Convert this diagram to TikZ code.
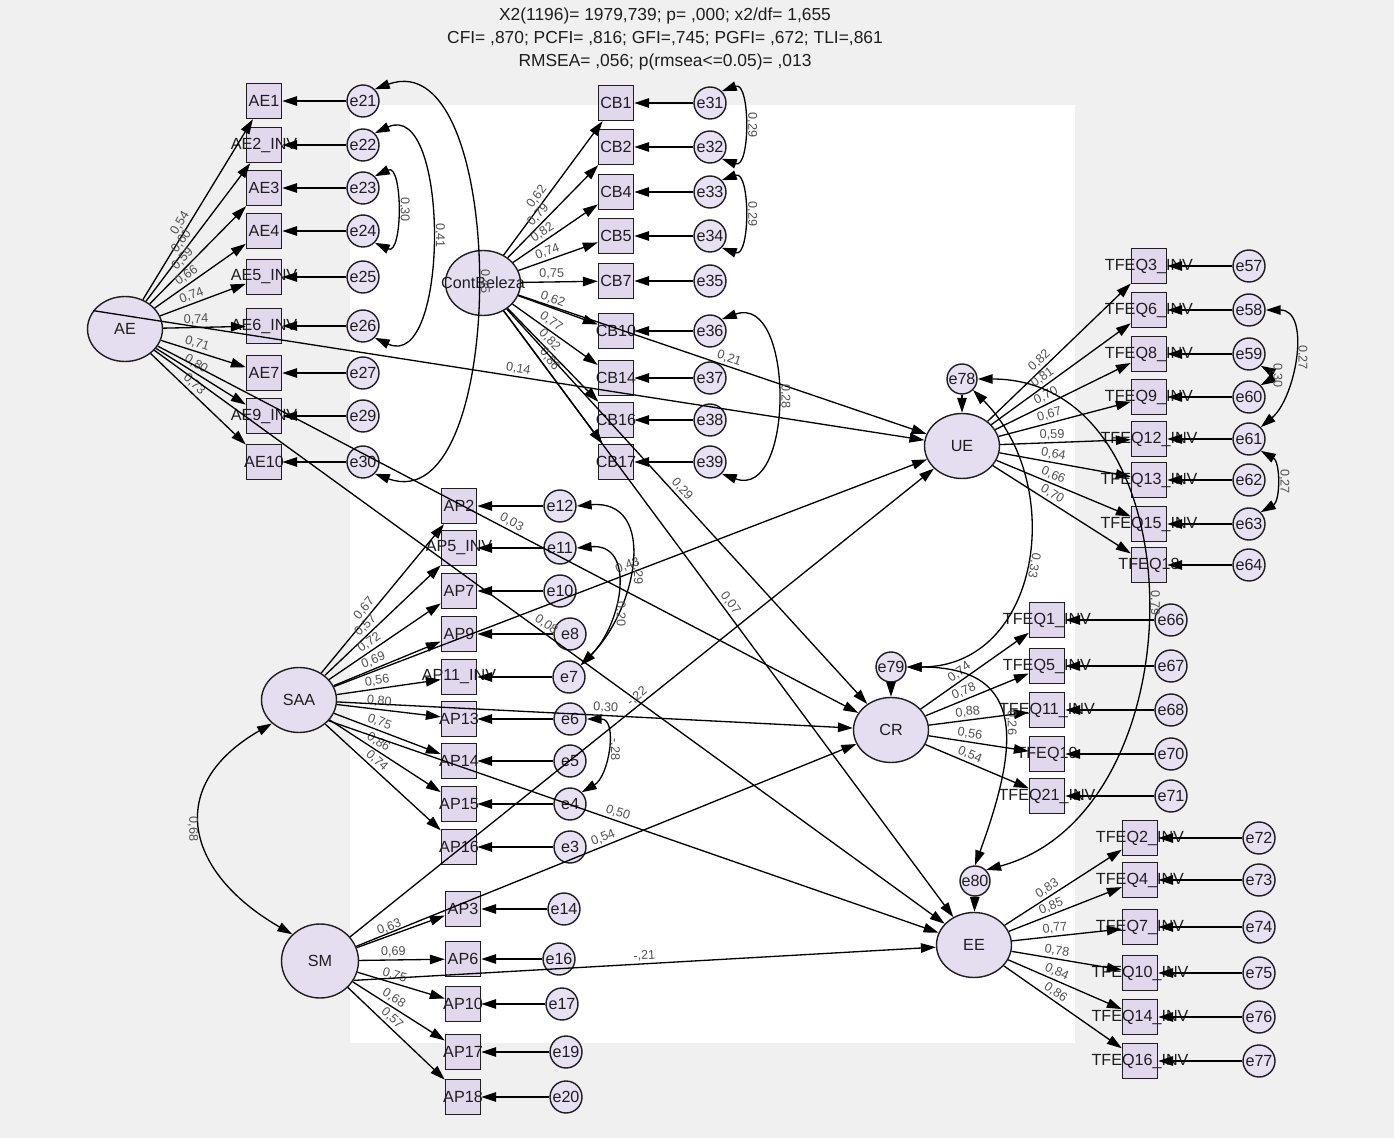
\documentclass[tikz,border=0pt]{standalone}
\usepackage{fontspec}
\setmainfont{Liberation Sans}
\setsansfont{Liberation Sans}
\usetikzlibrary{arrows.meta,shapes.geometric}

\begin{document}
\begin{tikzpicture}[x=0.02cm, y=-0.02cm, font=\sffamily]
% Colors
\definecolor{bggray}{RGB}{240,240,240}
\definecolor{boxfill}{RGB}{226,216,238}
\definecolor{errfill}{RGB}{232,224,243}
\definecolor{latfill}{RGB}{228,222,240}
\definecolor{ink}{RGB}{30,30,30}
\definecolor{wtgray}{RGB}{80,80,80}

\tikzset{
  obs/.style={draw=ink, fill=boxfill, line width=0.8pt, minimum width=0.7cm, minimum height=0.7cm, inner sep=0pt},
  err/.style={circle, draw=ink, fill=errfill, line width=0.8pt, minimum size=0.64cm, inner sep=0pt, text=ink, font=\fontsize{9.2}{11}\selectfont},
  lat/.style={ellipse, draw=ink, fill=latfill, line width=0.8pt, minimum width=1.5cm, minimum height=1.3cm, inner sep=0pt},
  lbl/.style={inner sep=0pt, text=ink, font=\fontsize{9.2}{11}\selectfont},
  reg/.style={-{Triangle[length=8.5pt,width=5.4pt]}, line width=0.75pt},
  cov/.style={{Triangle[length=8.5pt,width=5.4pt]}-{Triangle[length=8.5pt,width=5.4pt]}, line width=0.75pt},
  wt/.style={sloped, above, inner sep=1.2pt, text=wtgray, font=\fontsize{7.2}{8}\selectfont},
  arcwt/.style={rotate=-90, above, inner sep=1.5pt, text=wtgray, font=\fontsize{7.2}{8}\selectfont}
}

\useasboundingbox (0,0) rectangle (1394,1138);
% Background panels
\path[fill=bggray] (0,0) rectangle (1394,1138);
\path[fill=white] (350,105) rectangle (1075,1043);

% Fit indices
\node[align=center, text=ink, font=\fontsize{9.9}{13}\selectfont] (fit) at (665,39)
  {X2(1196)= 1979,739; p= ,000; x2/df= 1,655\\CFI= ,870; PCFI= ,816; GFI=,745; PGFI= ,672; TLI=,861\\RMSEA= ,056; p(rmsea<=0.05)= ,013};

% Latent variables
\node[lat, label={[lbl]center:AE}] (ae) at (125,329) {};
\node[lat, label={[lbl]center:ContBeleza}] (cb) at (483,283) {};
\node[lat, label={[lbl]center:SAA}] (saa) at (299,700) {};
\node[lat, minimum width=1.54cm, minimum height=1.48cm, label={[lbl]center:SM}] (sm) at (320,961) {};
\node[lat, label={[lbl]center:UE}] (ue) at (962,446) {};
\node[lat, label={[lbl]center:CR}] (cr) at (891,730) {};
\node[lat, label={[lbl]center:EE}] (ee) at (974,945) {};

% Structural residuals
\node[err, minimum size=0.6cm] (e78) at (962,379) {e78};
\node[err, minimum size=0.6cm] (e79) at (891,667) {e79};
\node[err, minimum size=0.6cm] (e80) at (975,881) {e80};

% Indicator lists: name/text/y/error/loading
\def\aeitems{1/AE1/101/21/{0,54}, 2/AE2\_INV/145/22/{0,60}, 3/AE3/188/23/{0,59}, 4/AE4/231/24/{0,66}, 5/AE5\_INV/277/25/{0,74}, 6/AE6\_INV/326/26/{0,74}, 7/AE7/373/27/{0,71}, 9/AE9\_INV/416/29/{0,80}, 10/AE10/462/30/{0,73}}
\def\cbitems{1/CB1/103/31/{0,62}, 2/CB2/147/32/{0,79}, 4/CB4/192/33/{0,82}, 5/CB5/236/34/{0,74}, 7/CB7/281/35/{0,75}, 10/CB10/331/36/{0,62}, 14/CB14/378/37/{0,77}, 16/CB16/420/38/{0,82}, 17/CB17/462/39/{0,86}}
\def\ueitems{3/TFEQ3\_INV/266/57/{0,82}, 6/TFEQ6\_INV/310/58/{0,81}, 8/TFEQ8\_INV/354/59/{0,70}, 9/TFEQ9\_INV/397/60/{0,67}, 12/TFEQ12\_INV/439/61/{0,59}, 13/TFEQ13\_INV/480/62/{0,64}, 15/TFEQ15\_INV/524/63/{0,66}, 18/TFEQ18/565/64/{0,70}}
\def\critems{1/TFEQ1\_INV/620/66/{0,74}, 5/TFEQ5\_INV/666/67/{0,78}, 11/TFEQ11\_INV/710/68/{0,88}, 19/TFEQ19/754/70/{0,56}, 21/TFEQ21\_INV/796/71/{0,54}}
\def\eeitems{2/TFEQ2\_INV/838/72/{0,83}, 4/TFEQ4\_INV/880/73/{0,85}, 7/TFEQ7\_INV/927/74/{0,77}, 10/TFEQ10\_INV/973/75/{0,78}, 14/TFEQ14\_INV/1017/76/{0,84}, 16/TFEQ16\_INV/1061/77/{0,86}}
\def\saaitems{2/AP2/506/12/560/{0,67}, 5/AP5\_INV/548/11/560/{0,57}, 7/AP7/591/10/560/{0,72}, 9/AP9/634/8/570/{0,69}, 11/AP11\_INV/677/7/569/{0,56}, 13/AP13/719/6/570/{0,80}, 14/AP14/761/5/570/{0,75}, 15/AP15/804/4/570/{0,86}, 16/AP16/847/3/570/{0,74}}
\def\smitems{3/AP3/909/14/564/{0,63}, 6/AP6/959/16/559/{0,69}, 10/AP10/1004/17/562/{0,75}, 17/AP17/1052/19/566/{0,68}, 18/AP18/1097/20/566/{0,57}}

% Observed variables and their errors
\foreach \i/\txt/\y/\k/\w in \aeitems{
  \node[obs, label={[lbl]center:\txt}] (ae\i) at (264,\y) {};
  \node[err] (e\k) at (363,\y) {e\k};
}
\foreach \i/\txt/\y/\k/\w in \cbitems{
  \node[obs, label={[lbl]center:\txt}] (cb\i) at (616,\y) {};
  \node[err] (e\k) at (710,\y) {e\k};
}
\foreach \i/\txt/\y/\k/\w in \ueitems{
  \node[obs, label={[lbl]center:\txt}] (tfeq\i) at (1149,\y) {};
  \node[err] (e\k) at (1249,\y) {e\k};
}
\foreach \i/\txt/\y/\k/\w in \critems{
  \node[obs, label={[lbl]center:\txt}] (tfeq\i) at (1047,\y) {};
  \node[err] (e\k) at (1171,\y) {e\k};
}
\foreach \i/\txt/\y/\k/\w in \eeitems{
  \node[obs, label={[lbl]center:\txt}] (tfeq\i) at (1140,\y) {};
  \node[err] (e\k) at (1259,\y) {e\k};
}
\foreach \i/\txt/\y/\k/\ex/\w in \saaitems{
  \node[obs, label={[lbl]center:\txt}] (ap\i) at (459,\y) {};
  \node[err] (e\k) at (\ex,\y) {e\k};
}
\foreach \i/\txt/\y/\k/\ex/\w in \smitems{
  \node[obs, label={[lbl]center:\txt}] (ap\i) at (463,\y) {};
  \node[err] (e\k) at (\ex,\y) {e\k};
}

% Loadings and error arrows
\foreach \i/\txt/\y/\k/\w in \aeitems{
  \draw[reg] (ae) -- node[wt, pos=0.4] {\w} (ae\i);
  \draw[reg] (e\k) -- (ae\i);
}
\foreach \i/\txt/\y/\k/\w in \cbitems{
  \draw[reg] (cb) -- node[wt, pos=0.4] {\w} (cb\i);
  \draw[reg] (e\k) -- (cb\i);
}
\foreach \i/\txt/\y/\k/\w in \ueitems{
  \draw[reg] (ue) -- node[wt, pos=0.4] {\w} (tfeq\i);
  \draw[reg] (e\k) -- (tfeq\i);
}
\foreach \i/\txt/\y/\k/\w in \critems{
  \draw[reg] (cr) -- node[wt, pos=0.4] {\w} (tfeq\i);
  \draw[reg] (e\k) -- (tfeq\i);
}
\foreach \i/\txt/\y/\k/\w in \eeitems{
  \draw[reg] (ee) -- node[wt, pos=0.4] {\w} (tfeq\i);
  \draw[reg] (e\k) -- (tfeq\i);
}
\foreach \i/\txt/\y/\k/\ex/\w in \saaitems{
  \draw[reg] (saa) -- node[wt, pos=0.4] {\w} (ap\i);
  \draw[reg] (e\k) -- (ap\i);
}
\foreach \i/\txt/\y/\k/\ex/\w in \smitems{
  \draw[reg] (sm) -- node[wt, pos=0.4] {\w} (ap\i);
  \draw[reg] (e\k) -- (ap\i);
}

% Structural paths
\draw[reg] (ae.150) -- node[wt, pos=0.51] {0,14} (ue);
\draw[reg] (ae) -- node[wt, pos=0.5] {0,03} (cr);
\draw[reg] (ae) -- node[wt, pos=0.49] {0,08} (ee);
\draw[reg] (cb) -- node[wt, pos=0.51] {0,21} (ue);
\draw[reg] (cb) -- node[wt, pos=0.47] {0,29} (cr);
\draw[reg] (cb) -- node[wt, pos=0.49] {0,07} (ee);
\draw[reg] (saa) -- node[wt, pos=0.5] {0,43} (ue);
\draw[reg] (saa) -- node[wt, pos=0.52] {0,30} (cr);
\draw[reg] (saa.-35) -- node[wt, pos=0.47] {0,50} (ee);
\draw[reg] (sm) -- node[wt, pos=0.5] {-,22} (ue);
\draw[reg] (sm) -- node[wt, pos=0.5] {0,54} (cr);
\draw[reg] (sm.-30) -- node[wt, pos=0.5] {-,21} (ee);
\draw[reg] (e78) -- (ue);
\draw[reg] (e79) -- (cr);
\draw[reg] (e80) -- (ee);

% Covariances
\draw[cov] (e21.north east) to[out=20, in=-20, looseness=0.96] node[arcwt, midway] {0,45} (e30.south east);
\draw[cov] (e22.north east) to[out=25, in=-25, looseness=1.04] node[arcwt, midway] {0,41} (e26.south east);
\draw[cov] (e23.north east) to[out=25, in=-25, looseness=1.2] node[arcwt, midway] {0,30} (e24.south east);
\draw[cov] (e31.north east) to[out=20, in=-20, looseness=1.16] node[arcwt, midway] {0,29} (e32.south east);
\draw[cov] (e33.north east) to[out=20, in=-20, looseness=1.16] node[arcwt, midway] {0,29} (e34.south east);
\draw[cov] (e36.north east) to[out=20, in=-20, looseness=1.29] node[arcwt, midway] {0,28} (e39.south east);
\draw[cov] (e58.east) to[out=0, in=40, looseness=1.0] node[arcwt, midway] {0,27} (e61.north east);
\draw[cov] (e59.south east) to[out=-30, in=30, looseness=1.6] node[arcwt, midway] {0,30} (e60.north east);
\draw[cov] (e61.south east) to[out=-30, in=30, looseness=0.95] node[arcwt, midway] {0,27} (e63.north east);
\draw[cov] (e12.east) to[out=5, in=45, looseness=1.3] node[arcwt, pos=0.56] {-,29} (e7.north east);
\draw[cov] (e11.east) to[out=5, in=45, looseness=1.3] node[arcwt, pos=0.66] {0,20} (e7.north east);
\draw[cov] (e6.east) to[out=0, in=30, looseness=1.1] node[arcwt, midway] {-,28} (e4.north east);
\draw[cov] (saa.south west) to[out=210, in=150, looseness=1.5] node[arcwt, midway, below] {0,68} (sm.north west);
\draw[cov] (e78.south east) to[out=-45, in=0, looseness=1.2] node[arcwt, midway, rotate=-10] {0,33} (e79.east);
\draw[cov] (e78.east) to[out=0, in=15, looseness=1.16] node[arcwt, midway] {0,79} (e80.north east);
\draw[cov] (e79.east) to[out=0, in=70, looseness=1.5] node[arcwt, midway] {0,26} (e80.north);
\end{tikzpicture}
\end{document}
